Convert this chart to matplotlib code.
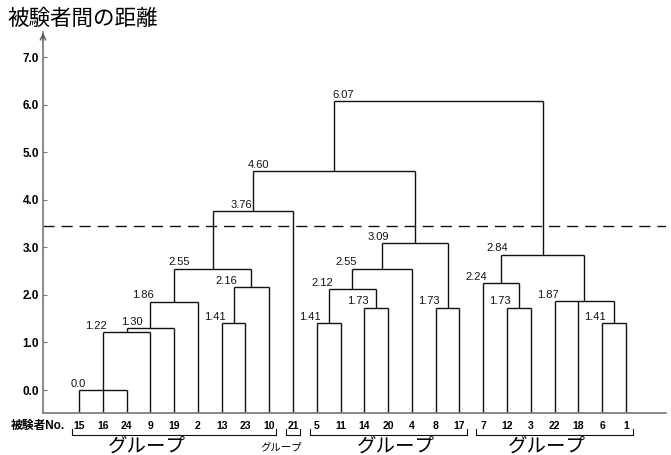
import matplotlib
matplotlib.use("Agg")
import matplotlib.pyplot as plt

plt.rcParams['font.family'] = ['Liberation Sans', 'Noto Sans CJK JP', 'DejaVu Sans']

# leaf order along the x axis (subject numbers)
leaves = [15, 16, 24, 9, 19, 2, 13, 23, 10, 21, 5, 11, 14, 20, 4, 8, 17,
          7, 12, 3, 22, 18, 6, 1]

# merges: (name, children, height); children are leaf numbers or merge names
merges = [
    ("A", [15, 16, 24], 0.0),
    ("B", ["A", 9], 1.22),
    ("C", ["B", 19], 1.30),
    ("D", ["C", 2], 1.86),
    ("E", [13, 23], 1.41),
    ("F", ["E", 10], 2.16),
    ("G", ["D", "F"], 2.55),
    ("H", ["G", 21], 3.76),
    ("I", [5, 11], 1.41),
    ("J", [14, 20], 1.73),
    ("K", ["I", "J"], 2.12),
    ("L", ["K", 4], 2.55),
    ("M", [8, 17], 1.73),
    ("N", ["L", "M"], 3.09),
    ("O", ["H", "N"], 4.60),
    ("P", [12, 3], 1.73),
    ("Q", [7, "P"], 2.24),
    ("R", [6, 1], 1.41),
    ("S", [22, 18, "R"], 1.87),
    ("T", ["Q", "S"], 2.84),
    ("U", ["O", "T"], 6.07),
]
merge_labels = ["0.0", "1.22", "1.30", "1.86", "1.41", "2.16", "2.55", "3.76",
                "1.41", "1.73", "2.12", "2.55", "1.73", "3.09", "4.60",
                "1.73", "2.24", "1.41", "1.87", "2.84", "6.07"]

cut_height = 3.45
y_ticks = [0, 1, 2, 3, 4, 5, 6, 7]

# groups: first leaf index, last leaf index, label
group_first = [0, 9, 10, 17]
group_last = [8, 9, 16, 23]
group_labels = ["グループ", "グループ", "グループ", "グループ"]

title = "被験者間の距離"
xlabel = "被験者No."

# layout tweaks: label nudges in pixels, group text centres in leaf units
label_dx = {"C": 16, "G": 16, "H": 39, "O": 16, "U": 20, "A": 7, "N": 7, "T": 7}
group_text_x = [2.87, 8.52, 13.33, 19.66]
group_big = [True, False, True, True]

fig = plt.figure(figsize=(6.71, 4.55), dpi=100)
ax = fig.add_axes([43 / 671, 1 - 413 / 455, 623 / 671, 381 / 455])
px = 23.78  # pixels per leaf step
ybot = -0.483
ax.set_xlim(-36 / px, 587 / px)
ax.set_ylim(ybot, 7.526)

pos = {leaf: (i, ybot) for i, leaf in enumerate(leaves)}
line_kw = dict(color="#111111", lw=1.0, solid_capstyle="butt")
for (name, children, h), lab in zip(merges, merge_labels):
    xs = [pos[c][0] for c in children]
    for c in children:
        cx, cy = pos[c]
        ax.plot([cx, cx], [cy, h], **line_kw)
    left, right = min(xs), max(xs)
    ax.plot([left, right], [h, h], **line_kw)
    pos[name] = ((left + right) / 2, h)
    dx = label_dx.get(name, 4) / px
    ax.text(left + dx, h + 0.03, lab, ha="right", va="bottom", fontsize=8,
            color="#111111")

ax.axhline(cut_height, color="#111111", lw=1.0, dashes=(8, 5))

for s in ["top", "right"]:
    ax.spines[s].set_visible(False)
for s in ["left", "bottom"]:
    ax.spines[s].set_color("#777777")
    ax.spines[s].set_linewidth(1.2)
ax.annotate("", xy=(0, 1.005), xytext=(0, 0.97), xycoords="axes fraction",
            arrowprops=dict(arrowstyle="->", color="#555555", lw=1.0))

ax.set_yticks(y_ticks)
ax.set_yticklabels([f"{t:.1f}" for t in y_ticks], fontsize=8.5,
                   fontweight="bold")
ax.tick_params(axis="y", direction="in", length=3, color="#777777", pad=3)
ax.set_xticks([])

for i, leaf in enumerate(leaves):
    ax.text(i, -0.76, str(leaf), ha="center", va="center", fontsize=7.5,
            fontweight="bold", clip_on=False)

for a, b, lab, tx, big in zip(group_first, group_last, group_labels,
                              group_text_x, group_big):
    x0, x1 = a - 0.3, b + 0.3
    ax.plot([x0, x0, x1, x1], [-0.82, -0.946, -0.946, -0.82], color="#111111",
            lw=0.8, clip_on=False)
    if big:
        ax.text(tx, -1.2, lab, ha="center", va="center", fontsize=14,
                clip_on=False)
    else:
        ax.text(tx, -1.21, lab, ha="center", va="center", fontsize=7.5,
                clip_on=False)

fig.text(7 / 671, 1 - 19 / 455, title, ha="left", va="center", fontsize=15.5)
fig.text(11 / 671, 1 - 426 / 455, xlabel, ha="left", va="center",
         fontsize=8.5, fontweight="bold")

fig.savefig("out.png", dpi=100)
